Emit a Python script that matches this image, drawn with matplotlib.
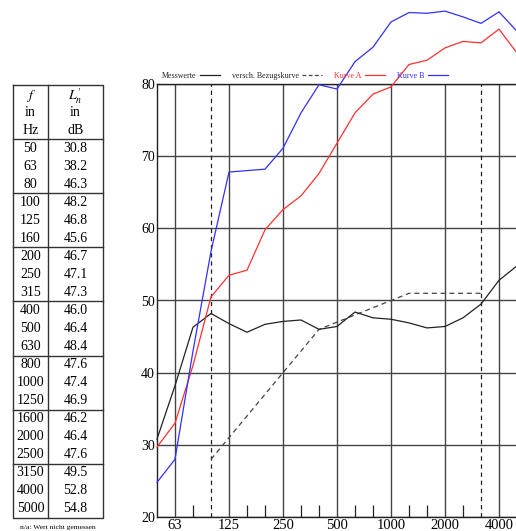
"""Terzband-Messwerte mit Bezugskurve und Vergleichskurven, daneben die Wertetabelle."""

import matplotlib

matplotlib.use("Agg")
import matplotlib.pyplot as plt
from matplotlib.lines import Line2D

plt.rcParams["font.family"] = ["Liberation Serif", "DejaVu Serif"]
plt.rcParams["mathtext.fontset"] = "stix"

# Terzmittenfrequenzen und gemessene Pegel
freqs = [50, 63, 80, 100, 125, 160, 200, 250, 315, 400, 500, 630,
         800, 1000, 1250, 1600, 2000, 2500, 3150, 4000, 5000]
messwerte = [30.8, 38.2, 46.3, 48.2, 46.8, 45.6, 46.7, 47.1, 47.3, 46.0, 46.4,
             48.4, 47.6, 47.4, 46.9, 46.2, 46.4, 47.6, 49.5, 52.8, 54.8]

# verschobene Bezugskurve, 100 bis 3150 Hz
bezug_freqs = [100, 125, 160, 200, 250, 315, 400, 500, 630, 800,
               1000, 1250, 1600, 2000, 2500, 3150]
bezug_werte = [28, 31, 34, 37, 40, 43, 46, 47, 48, 49, 50, 51, 51, 51, 51, 51]

kurve_a = [29.7, 33.0, 41.0, 50.5, 53.5, 54.2, 59.8, 62.6, 64.5, 67.6, 71.8,
           76.0, 78.6, 79.6, 82.7, 83.3, 85.0, 85.9, 85.7, 87.6, 84.3]
kurve_b = [24.8, 28.0, 43.0, 56.8, 67.8, 68.0, 68.2, 71.1, 76.0, 79.9, 79.3,
           83.1, 85.1, 88.6, 89.9, 89.8, 90.1, 89.3, 88.4, 90.0, 87.3]

octave_labels = [63, 125, 250, 500, 1000, 2000, 4000]
minor_labels = [80, 160, 200, 315, 400, 630, 800, 1250, 1600, 2500]
dashed_labels = [100, 3150]
y_ticks = [20, 30, 40, 50, 60, 70, 80]

W, H = 516, 531
fig = plt.figure(figsize=(W / 100, H / 100), dpi=100)

# --- Tabelle links (Pixelkoordinaten) ---
tab = fig.add_axes([0, 0, 1, 1])
tab.set_xlim(0, W)
tab.set_ylim(H, 0)
tab.axis("off")

x_left, x_mid, x_right = 12.7, 48.3, 102.7
y_top = 85
row0, pitch = 148, 18.05
y_bottom = row0 + 20.5 * pitch
line_kw = dict(color="#333333", lw=1.0)

tab.plot([x_left, x_right, x_right, x_left, x_left],
         [y_top, y_top, y_bottom, y_bottom, y_top], **line_kw)
tab.plot([x_mid, x_mid], [y_top, y_bottom], **line_kw)
for k in range(7):
    y = row0 + (3 * k - 0.5) * pitch
    tab.plot([x_left, x_right], [y, y], **line_kw)

c1 = (x_left + x_mid) / 2
c2 = (x_mid + x_right) / 2
hdr = dict(ha="center", va="center", fontsize=10)
tab.text(c1, 96, "$f$", **hdr)
tab.text(c1, 113, "in", **hdr)
tab.text(c1, 130.5, "Hz", **hdr)
tab.text(c2, 96, r"$L_{n}^{\prime}$", **hdr)
tab.text(c2, 113, "in", **hdr)
tab.text(c2, 130.5, "dB", **hdr)
for i, (f, v) in enumerate(zip(freqs, messwerte)):
    y = row0 + i * pitch
    tab.text(c1, y, f"{f}", ha="center", va="center", fontsize=10)
    tab.text(c2, y, f"{v:.1f}", ha="center", va="center", fontsize=10)
tab.text((x_left + x_right) / 2, 527.5, "n/a: Wert nicht gemessen",
         ha="center", va="center", fontsize=5.4)

# --- Diagramm: Terzbaender gleichabstaendig ---
px0, py_bottom, py_top = 157, 517, 84
n_span = 20.5
step = 18
ax = fig.add_axes([px0 / W, 1 - py_bottom / H, n_span * step / W, (py_bottom - py_top) / H])
ax.set_xlim(0, n_span)
ax.set_ylim(20, 80)

idx = {f: i for i, f in enumerate(freqs)}

ax.set_yticks(y_ticks)
ax.set_xticks([idx[f] for f in octave_labels])
ax.set_xticklabels([str(f) for f in octave_labels], fontsize=10.5)
ax.set_xticks([idx[f] for f in minor_labels], minor=True)
ax.tick_params(axis="x", which="major", length=0, pad=1.5)
ax.tick_params(axis="x", which="minor", direction="in", length=8.6, width=0.9,
               color="#222222")
ax.tick_params(axis="y", length=0, pad=1.5, labelsize=10)

ax.grid(True, which="major", color="#444444", lw=1.0)
ax.set_axisbelow(True)
for side in ["left", "bottom", "top"]:
    ax.spines[side].set_color("#222222")
    ax.spines[side].set_linewidth(1.0)
ax.spines["right"].set_visible(False)

for f in dashed_labels:
    ax.axvline(idx[f], color="#222222", lw=0.9, ls=(0, (3.5, 3)))

xs = list(range(len(freqs)))
ax.plot(xs, messwerte, color="#222222", lw=0.9, clip_on=False, zorder=4)
ax.plot([idx[f] for f in bezug_freqs], bezug_werte, color="#444444", lw=0.9,
        ls=(0, (4, 3)), zorder=3)
ax.plot(xs, kurve_a, color="#ff3030", lw=0.9, clip_on=False, zorder=4)
ax.plot(xs, kurve_b, color="#3030ff", lw=0.9, clip_on=False, zorder=4)

handles = [
    Line2D([], [], color="#222222", lw=0.9),
    Line2D([], [], color="#444444", lw=0.9, ls=(0, (3, 2))),
    Line2D([], [], color="#ff3030", lw=0.9),
    Line2D([], [], color="#3030ff", lw=0.9),
]
labels = ["Messwerte", "versch. Bezugskurve", "Kurve A", "Kurve B"]
fig.legend(handles, labels, loc="center left", bbox_to_anchor=(162 / W, 1 - 75.5 / H),
           ncols=4, frameon=False, markerfirst=False, fontsize=5.8,
           handlelength=2.5, handletextpad=0.4, columnspacing=1.5,
           borderpad=0, borderaxespad=0, labelcolor=["#222222", "#222222", "#ff3030", "#3030ff"])

fig.savefig("out.png", dpi=100)
plt.close(fig)
